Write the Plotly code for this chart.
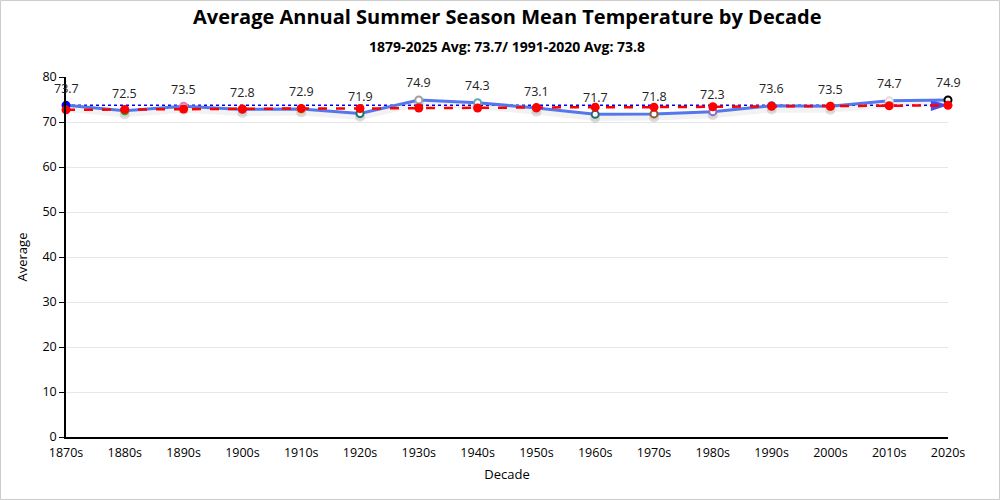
import plotly.graph_objects as go

decades = ["1870s", "1880s", "1890s", "1900s", "1910s", "1920s", "1930s", "1940s",
           "1950s", "1960s", "1970s", "1980s", "1990s", "2000s", "2010s", "2020s"]
avg_values = [73.7, 72.5, 73.5, 72.8, 72.9, 71.9, 74.9, 74.3,
              73.1, 71.7, 71.8, 72.3, 73.6, 73.5, 74.7, 74.9]
trend_values = [72.7, 72.8, 72.9, 72.9, 73.0, 73.0, 73.1, 73.1,
                73.2, 73.3, 73.3, 73.4, 73.5, 73.5, 73.6, 73.7]
overall_avg = 73.7
marker_outline = ["#0000ff", "#2ca02c", "#e377c2", "#7f7f7f", "#bcbd22", "#17756e",
                  "#a0a0a0", "#5fa7b5", "#d62728", "#1f6f6a", "#8c5a2b", "#8a6fc0",
                  "#1f77b4", "#ff7f0e", "#dddddd", "#000000"]
marker_fill = ["#0000ff"] + ["#ffffff"] * 15

title = "Average Annual Summer Season Mean Temperature by Decade"
subtitle = "1879-2025 Avg: 73.7/ 1991-2020 Avg: 73.8"

font = "Segoe UI, Open Sans, Noto Sans, sans-serif"

fig = go.Figure()
n = len(decades)

# soft shadows under the lines and markers
fig.add_trace(go.Scatter(
    x=decades, y=[v - 0.8 for v in avg_values], mode="lines+markers",
    line=dict(color="rgba(0,0,0,0.05)", width=6),
    marker=dict(size=10, color="rgba(0,0,0,0.12)"),
    hoverinfo="skip", showlegend=False))

# overall average dotted line with arrow
fig.add_trace(go.Scatter(
    x=decades, y=[overall_avg] * n, mode="lines+markers",
    line=dict(color="#0000ee", width=1.5, dash="dot"),
    marker=dict(symbol="arrow", angleref="previous",
                size=[0] * (n - 1) + [18], color="#0000ee", line=dict(width=0)),
    hoverinfo="skip", showlegend=False, cliponaxis=False))

# main decadal average
fig.add_trace(go.Scatter(
    x=decades, y=avg_values, mode="lines+markers",
    line=dict(color="#5577ee", width=3),
    marker=dict(size=7, color=marker_fill, line=dict(color=marker_outline, width=2)),
    showlegend=False, cliponaxis=False))

# trend dashed line
fig.add_trace(go.Scatter(
    x=decades, y=trend_values, mode="lines+markers",
    line=dict(color="#ff0000", width=2.5, dash="dash"),
    marker=dict(size=9, color="#ff0000"),
    showlegend=False, cliponaxis=False))

annotations = [dict(x=d, y=v, xref="x", yref="y", text=f"{v:.1f}", showarrow=False,
                    yshift=17, font=dict(size=12.5, color="#222222", family=font))
               for d, v in zip(decades, avg_values)]
annotations.append(dict(x=0.5, y=(437 - 17) / 360, xref="paper", yref="paper",
                        text=f"<b>{title}</b>", showarrow=False, yanchor="middle",
                        font=dict(size=20, family=font, color="#000000")))
annotations.append(dict(x=0.5, y=(437 - 46) / 360, xref="paper", yref="paper",
                        text=f"<b>{subtitle}</b>", showarrow=False, yanchor="middle",
                        font=dict(size=14, family=font, color="#000000")))

fig.update_layout(
    width=1000, height=500,
    margin=dict(l=66, r=52, t=77, b=63),
    paper_bgcolor="white", plot_bgcolor="white",
    font=dict(family=font, size=12, color="#000000"),
    xaxis=dict(
        type="category", range=[0, n - 1], showgrid=False,
        showline=True, linecolor="#000000", linewidth=1.5,
        ticks="", tickfont=dict(size=12.5), ticklabelstandoff=3,
        title=dict(text="Decade", font=dict(size=13), standoff=10),
        zeroline=False),
    yaxis=dict(
        range=[0, 80], dtick=10, showgrid=True, gridcolor="#e6e6e6",
        showline=True, linecolor="#000000", linewidth=1.5,
        ticks="outside", ticklen=5, tickcolor="#000000", tickfont=dict(size=12.5),
        title=dict(text="Average", font=dict(size=13), standoff=12),
        zeroline=False),
    annotations=annotations,
    shapes=[dict(type="rect", xref="paper", yref="paper",
                 x0=-65.5 / 882, x1=933.5 / 882, y0=-62.5 / 360, y1=436.5 / 360,
                 line=dict(color="#cccccc", width=1), fillcolor="rgba(0,0,0,0)")],
)

fig.write_html("out.html", config={"displayModeBar": False},
               post_script="document.body.style.margin='0';document.body.style.overflow='hidden';")
